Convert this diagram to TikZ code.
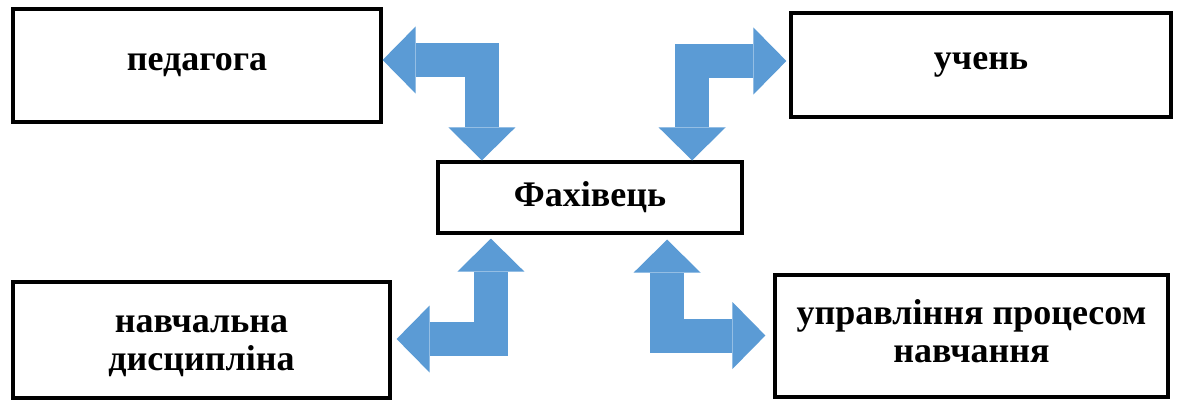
\documentclass[tikz,border=0pt]{standalone}
\usepackage{fontspec}
\setmainfont{Liberation Serif}
\usetikzlibrary{arrows.meta, positioning}
\definecolor{arrowblue}{RGB}{91,155,213}

\begin{document}
\begin{tikzpicture}[x=1pt, y=1pt,
        box/.style={draw, line width=3.2pt, align=center, inner sep=0pt, font=\bfseries\fontsize{36}{38}\selectfont},
        bentarrow/.style={draw=arrowblue, line width=34pt, line join=miter,
            arrows={Triangle[width=67pt, length=33pt, line width=0pt]-Triangle[width=67pt, length=33pt, line width=0pt]}}]
        \useasboundingbox (0,0) rectangle (1178,400);
        \node[box, minimum width=368pt, minimum height=113pt] (ped) at (197,334.5) {педагога};
        \node[box, minimum width=380pt, minimum height=104pt] (uch) at (981,335) {учень};
        \node[box, minimum width=304pt, minimum height=71pt] (fah) at (590,202.5) {Фахівець};
        \node[box, minimum width=377pt, minimum height=116pt, text height=67pt, text depth=7pt] (nav) at (201.5,60) {навчальна\\дисципліна};
        \node[box, minimum width=393pt, minimum height=122pt, text height=59pt, text depth=7pt] (upr) at (971.5,64) {управління процесом\\навчання};

        \draw[bentarrow] ([yshift=5.5pt]ped.east) -| ([xshift=45.5pt]fah.north west);
        \draw[bentarrow] ([xshift=-3pt, yshift=4pt]uch.west) -| ([xshift=-51.5pt]fah.north east);
        \draw[bentarrow] ([xshift=5pt, yshift=1pt]nav.east) -| ([xshift=54.5pt, yshift=-4pt]fah.south west);
        \draw[bentarrow] ([xshift=-8pt, yshift=0.5pt]upr.west) -| ([xshift=-76.5pt, yshift=-5pt]fah.south east);
    \end{tikzpicture}
\end{document}
